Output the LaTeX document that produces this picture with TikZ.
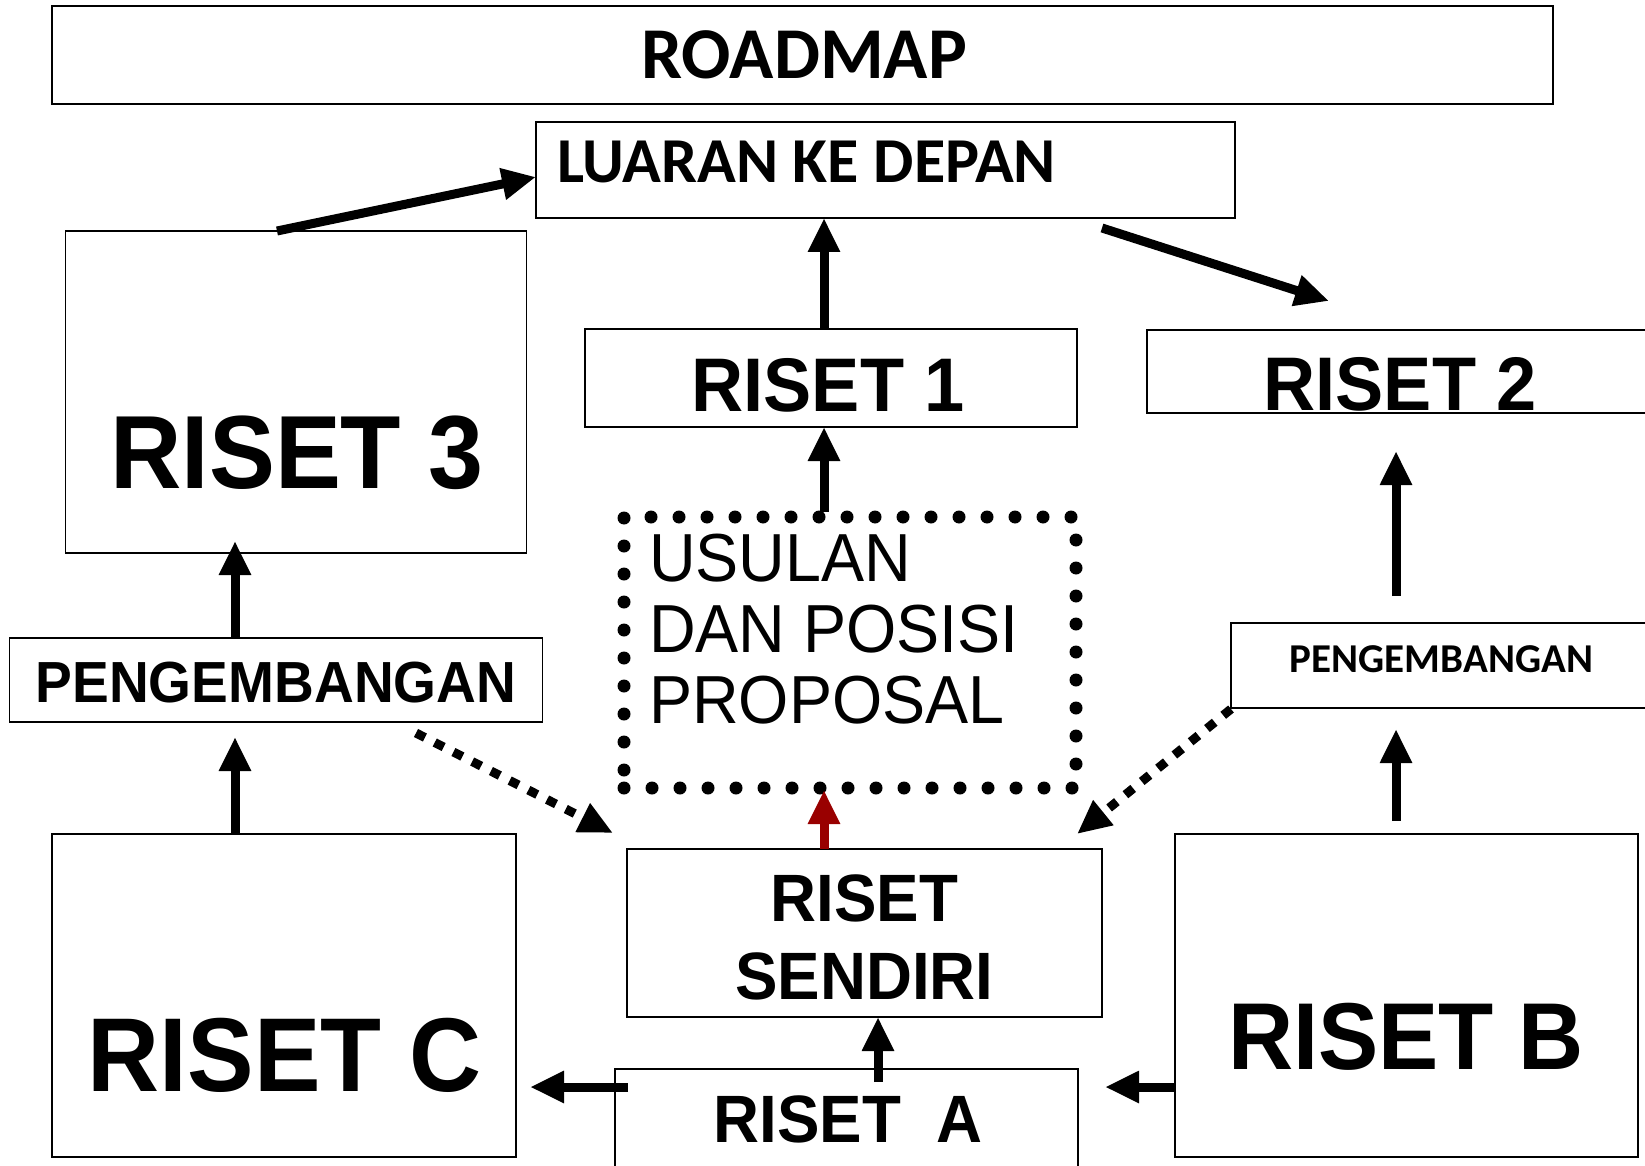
\documentclass[tikz,border=0pt]{standalone}
\usepackage{fontspec}
\setmainfont{Liberation Sans}
\newfontfamily\arialfont[FakeStretch=0.95]{Liberation Sans}
\newfontfamily\calfont{Carlito}
\usetikzlibrary{arrows.meta}
\definecolor{darkred}{HTML}{990000}

\tikzset{
	box/.style={draw, line width=1.6pt, inner sep=0pt, outer sep=0pt},
	lbl/.style={inner sep=0pt, anchor=base},
	arr/.style={line width=9pt, -{Triangle[length=34pt,width=30pt]}},
	dotarr/.style={arr, dash pattern=on 10pt off 11pt},
	dotbox/.style={draw, line width=13pt, dash pattern=on 0pt off 28pt, line cap=round, inner sep=0pt, outer sep=0pt},
}

\begin{document}
\begin{tikzpicture}[x=1pt, y=-1pt]
	\clip (0,0) rectangle (1645,1166);
	\fill[white] (0,0) rectangle (1645,1166);
	% boxes
	\node[box, minimum width=1501pt, minimum height=98pt] (roadmap) at (802.5,55) {};
	\node[box, minimum width=699pt, minimum height=96pt] (luaran) at (885.5,170) {};
	\node[box, minimum width=461pt, minimum height=322pt] (r3) at (296,392) {};
	\node[box, minimum width=492pt, minimum height=98pt] (r1) at (831,378) {};
	\node[box, minimum width=513pt, minimum height=83pt] (r2) at (1403.5,371.5) {};
	\node[dotbox, minimum width=452pt, minimum height=271pt] (usul) at (850,652.5) {};
	\node[box, minimum width=533pt, minimum height=84pt] (lpeng) at (276,680) {};
	\node[box, minimum width=429pt, minimum height=85pt] (rpeng) at (1445.5,665.5) {};
	\node[box, minimum width=464pt, minimum height=323pt] (rC) at (284,995.5) {};
	\node[box, minimum width=475pt, minimum height=168pt] (sendiri) at (864.5,933) {};
	\node[box, minimum width=463pt, minimum height=131pt] (rA) at (846.5,1134.5) {};
	\node[box, minimum width=463pt, minimum height=323pt] (rB) at (1406.5,995.5) {};
	% texts
	\node[lbl] (troadmap) at (804,79) {\calfont\bfseries\fontsize{73}{80}\selectfont ROADMAP};
	\node[lbl, anchor=base west] (tluaran) at (557,183) {\calfont\bfseries\fontsize{64}{70}\selectfont LUARAN KE DEPAN};
	\node[lbl] (tr3) at (297,488) {\arialfont\bfseries\fontsize{104}{110}\selectfont RISET 3};
	\node[lbl] (tr1) at (828,411) {\arialfont\bfseries\fontsize{76}{80}\selectfont RISET 1};
	\node[lbl] (tr2) at (1400,410) {\arialfont\bfseries\fontsize{76}{80}\selectfont RISET 2};
	% base of a multi-line node is its last line
	\node[lbl, anchor=base west, align=left, font={\arialfont\fontsize{68}{71}\selectfont}] (tusul) at (649,723) {USULAN\\DAN POSISI\\PROPOSAL};
	\node[lbl] (tlpeng) at (276,702) {\arialfont\bfseries\fontsize{58}{60}\selectfont PENGEMBANGAN};
	\node[lbl] (trpeng) at (1441.5,672) {\calfont\bfseries\fontsize{41}{45}\selectfont PENGEMBANGAN};
	\node[lbl] (trC) at (284.5,1091) {\arialfont\bfseries\fontsize{105}{110}\selectfont RISET C};
	\node[lbl] (tsendiri1) at (864.5,921) {\arialfont\bfseries\fontsize{67}{70}\selectfont RISET};
	\node[lbl] (tsendiri2) at (864.5,999) {\arialfont\bfseries\fontsize{67}{70}\selectfont SENDIRI};
	\node[lbl] (trA) at (848,1142) {\arialfont\bfseries\fontsize{67}{70}\selectfont RISET\ \ A};
	\node[lbl] (trB) at (1406,1069) {\arialfont\bfseries\fontsize{95}{100}\selectfont RISET B};
	% arrows
	\draw[arr] ([shift={(-19,0)}]r3.north) -- ([shift={(0,7)}]luaran.west);
	\draw[arr] ([shift={(-7,0)}]r1.north) -- ([shift={(-61.5,0)}]luaran.south);
	\draw[arr] ([shift={(216.5,10)}]luaran.south) -- ([shift={(-74.5,-29)}]r2.north);
	\draw[arr] ([shift={(-26,-5)}]usul.north) -- ([shift={(-7,0)}]r1.south);
	\draw[arr] ([shift={(-49.5,-27)}]rpeng.north) -- ([shift={(-7.5,38)}]r2.south);
	\draw[arr] ([shift={(-10.5,-13)}]rB.north) -- ([shift={(-49.5,21)}]rpeng.south);
	\draw[arr] ([shift={(-41,0)}]lpeng.north) -- ([shift={(-61,-12)}]r3.south);
	\draw[arr] ([shift={(-49,0)}]rC.north) -- ([shift={(-41,15)}]lpeng.south);
	\draw[dotarr] ([shift={(140,11)}]lpeng.south) -- ([shift={(-14,-16)}]sendiri.north west);
	\draw[dotarr] ([shift={(0,1)}]rpeng.south west) -- ([shift={(-25,-15)}]sendiri.north east);
	\draw[arr, darkred] ([shift={(-40.5,0)}]sendiri.north) -- ([shift={(-26,2)}]usul.south);
	\draw[arr] ([shift={(31.5,13)}]rA.north) -- ([shift={(13.5,0)}]sendiri.south);
	\draw[arr] ([shift={(13,-47.5)}]rA.west) -- ([shift={(14,91.5)}]rC.east);
	\draw[arr] ([shift={(0,91.5)}]rB.west) -- ([shift={(27,-47.5)}]rA.east);
\end{tikzpicture}
\end{document}
